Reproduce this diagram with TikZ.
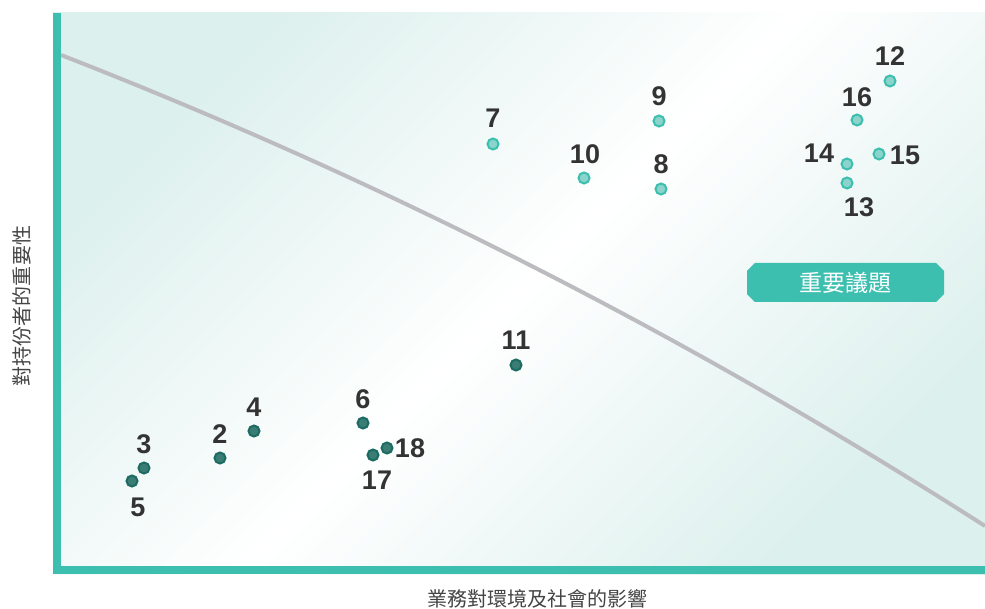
\documentclass[tikz,border=0pt]{standalone}
\usepackage{fontspec}
\setsansfont{Liberation Sans}
\newfontfamily\cjk{Noto Sans CJK TC}
\usetikzlibrary{shapes.misc}

\definecolor{teal}{RGB}{61,191,176}
\definecolor{tealpale}{RGB}{220,240,237}
\definecolor{dotlight}{RGB}{138,212,203}
\definecolor{dotdark}{RGB}{58,125,116}
\definecolor{rimdark}{RGB}{29,107,98}
\definecolor{curvegray}{RGB}{188,188,192}
\definecolor{numgray}{RGB}{51,51,51}
\definecolor{axisgray}{RGB}{68,68,68}

\tikzset{
  hi/.style={circle, draw=teal, fill=dotlight, line width=2pt, minimum size=11pt, inner sep=0pt},
  lo/.style={circle, draw=rimdark, fill=dotdark, line width=2pt, minimum size=11pt, inner sep=0pt},
  num/.style={inner sep=0pt, text=numgray, font=\sffamily\bfseries\fontsize{27}{27}\selectfont},
  axislabel/.style={inner sep=0pt, text=axisgray, font=\cjk\fontsize{20}{20}\selectfont},
  keybox/.style={chamfered rectangle, chamfered rectangle xsep=5pt, fill=teal, text=white,
    minimum width=197pt, minimum height=39pt, inner sep=0pt, font=\cjk\fontsize{23}{23}\selectfont}
}

\begin{document}
\begin{tikzpicture}[x=1pt, y=-1pt]
  \useasboundingbox (0,0) rectangle (985,609);

  % Background of the plot area
  \shade[top color=tealpale, bottom color=tealpale, middle color=white, shading angle=45]
    (53,13) rectangle (985,574);

  % Dividing curve
  \coordinate (c0) at (61,55);
  \coordinate (c1) at (985,526);
  \draw[curvegray, line width=4pt] (c0) .. controls (369,175) and (677,329) .. (c1);

  % Axes
  \fill[teal] (53,13) rectangle (61,574);
  \fill[teal] (53,566) rectangle (985,574);

  % Axis titles
  \node[axislabel, rotate=90] (ytitle) at (22,306) {對持份者的重要性};
  \node[axislabel] (xtitle) at (537,599) {業務對環境及社會的影響};

  % Key issues tag
  \node[keybox] (key) at (845.5,282.5) {重要議題};

  % Points below the curve
  \node[lo] (d2) at (220,458) {};
  \node[lo] (d3) at (144,468) {};
  \node[lo] (d4) at (254,431) {};
  \node[lo] (d5) at (132,481) {};
  \node[lo] (d6) at (363,423) {};
  \node[lo] (d11) at (516,365) {};
  \node[lo] (d17) at (373,455) {};
  \node[lo] (d18) at (387,448) {};

  % Points above the curve
  \node[hi] (d7) at (493,144) {};
  \node[hi] (d8) at (661,189) {};
  \node[hi] (d9) at (659,121) {};
  \node[hi] (d10) at (584,178) {};
  \node[hi] (d12) at (890,81) {};
  \node[hi] (d13) at (847,183) {};
  \node[hi] (d14) at (847,164) {};
  \node[hi] (d15) at (879,154) {};
  \node[hi] (d16) at (857,120) {};

  % Label the points
  \node[num] (n2) at (220,434) {2};
  \node[num] (n3) at (144,444) {3};
  \node[num] (n4) at (254,407) {4};
  \node[num] (n5) at (138,507) {5};
  \node[num] (n6) at (363,399) {6};
  \node[num] (n7) at (493,118) {7};
  \node[num] (n8) at (661,164) {8};
  \node[num] (n9) at (659,96) {9};
  \node[num] (n10) at (585,154) {10};
  \node[num] (n11) at (516,340) {11};
  \node[num] (n12) at (890,56) {12};
  \node[num] (n13) at (859,207) {13};
  \node[num] (n14) at (819,153) {14};
  \node[num] (n15) at (905,155) {15};
  \node[num] (n16) at (857,97) {16};
  \node[num] (n17) at (377,480) {17};
  \node[num] (n18) at (410,448) {18};
\end{tikzpicture}
\end{document}
